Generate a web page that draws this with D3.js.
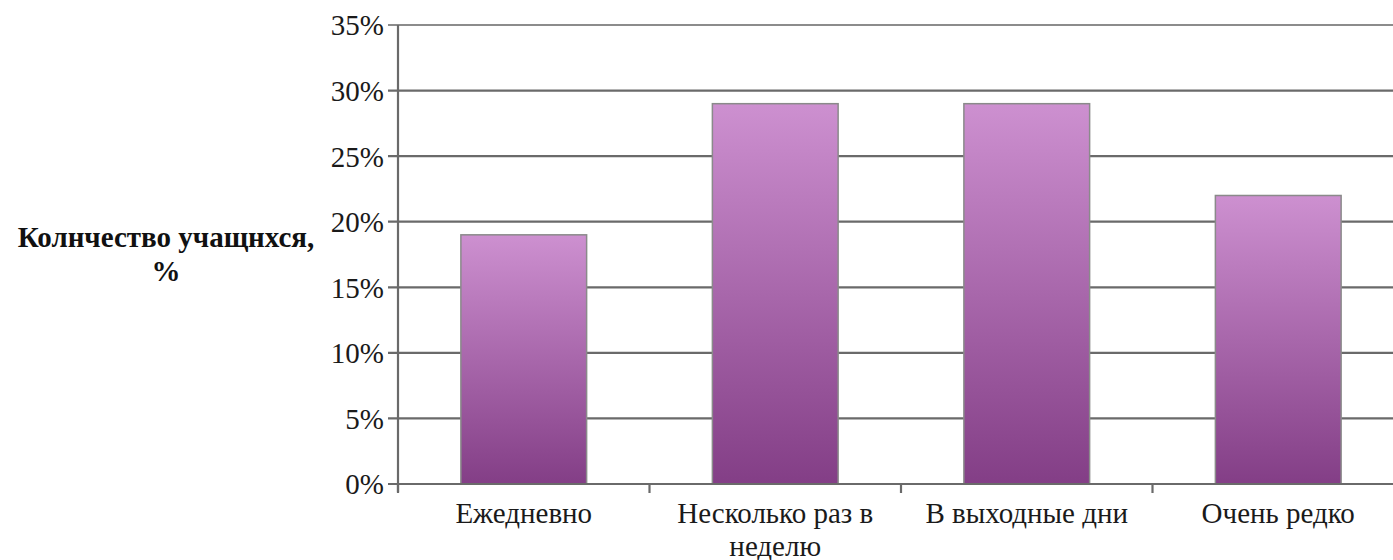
<!DOCTYPE html>
<html>
<head>
<meta charset="utf-8">
<script src="https://cdn.jsdelivr.net/npm/d3@7"></script>
<style>
  html, body { margin: 0; padding: 0; background: #fff; }
  svg { display: block; }
</style>
</head>
<body>
<svg id="chart" width="1393" height="560"></svg>
<script>
/* ---------------- data ---------------- */
const categories = ['Ежедневно', 'Несколько раз в неделю', 'В выходные дни', 'Очень редко'];
const categoryLines = [['Ежедневно'], ['Несколько раз в', 'неделю'], ['В выходные дни'], ['Очень редко']];
const shares = [0.19, 0.29, 0.29, 0.22];
const yTicks = [0, 0.05, 0.10, 0.15, 0.20, 0.25, 0.30, 0.35];
const yTitle = ['Колнчество учащнхся,', '%'];

/* ---------------- layout ---------------- */
const svg = d3.select('#chart');
const X0 = 398, X1 = 1404, Y0 = 484, Y1 = 25;
const FONT = '"Liberation Serif", "Times New Roman", serif';

const xScale = d3.scaleBand().domain(categories).range([X0, X1])
  .paddingInner(0.5).paddingOuter(0.25);
const yScale = d3.scaleLinear().domain([0, 0.35]).range([Y0, Y1]);

const defs = svg.append('defs');
const grad = defs.append('linearGradient').attr('id', 'barGrad')
  .attr('x1', 0).attr('y1', 0).attr('x2', 0).attr('y2', 1);
grad.append('stop').attr('offset', '0%').attr('stop-color', '#cd90d0');
grad.append('stop').attr('offset', '100%').attr('stop-color', '#833e86');

// gridlines
svg.append('g').selectAll('line').data(yTicks).join('line')
  .attr('x1', X0 - 10).attr('x2', 1393)
  .attr('y1', d => yScale(d)).attr('y2', d => yScale(d))
  .attr('stroke', d => d === 0.35 ? '#8c8c8c' : '#6a6a6a')
  .attr('stroke-width', 2.2);

// y axis (labels only, line drawn separately)
const yAxisG = svg.append('g').attr('transform', `translate(${X0},0)`)
  .call(d3.axisLeft(yScale).tickValues(yTicks).tickFormat(d3.format('.0%')).tickSize(10).tickPadding(4))
  .attr('font-family', FONT);
yAxisG.select('.domain').remove();
yAxisG.selectAll('.tick line').remove();
yAxisG.selectAll('.tick text').attr('font-size', 29).attr('dy', '0.34em').attr('fill', '#1a1a1a');

svg.append('line').attr('x1', X0).attr('x2', X0).attr('y1', Y1).attr('y2', Y0 + 8)
  .attr('stroke', '#6a6a6a').attr('stroke-width', 2.2);

// bars
svg.append('g').selectAll('rect').data(shares).join('rect')
  .attr('x', (d, i) => xScale(categories[i]))
  .attr('width', xScale.bandwidth())
  .attr('y', d => yScale(d))
  .attr('height', d => Y0 - yScale(d))
  .attr('fill', 'url(#barGrad)')
  .attr('stroke', '#8a8a8a').attr('stroke-width', 1.5);

// x axis line + ticks at band boundaries
svg.append('line').attr('x1', X0 - 10).attr('x2', 1393).attr('y1', Y0).attr('y2', Y0)
  .attr('stroke', '#6a6a6a').attr('stroke-width', 2.2);
const step = xScale.step();
svg.append('g').selectAll('line').data(categories).join('line')
  .attr('x1', (d, i) => X0 + i * step).attr('x2', (d, i) => X0 + i * step)
  .attr('y1', Y0).attr('y2', Y0 + 9)
  .attr('stroke', '#6a6a6a').attr('stroke-width', 2.2);

// x labels
const xl = svg.append('g').attr('font-family', FONT)
  .selectAll('text').data(categories).join('text')
  .attr('text-anchor', 'middle')
  .attr('font-size', 29)
  .attr('fill', '#1a1a1a')
  .attr('x', d => xScale(d) + xScale.bandwidth() / 2)
  .attr('y', 523);
xl.each(function(d, i) {
  d3.select(this).selectAll('tspan').data(categoryLines[i]).join('tspan')
    .attr('x', xScale(d) + xScale.bandwidth() / 2)
    .attr('dy', (t, j) => j === 0 ? 0 : 33)
    .text(t => t);
});

// y title
svg.append('text')
  .attr('font-family', FONT)
  .attr('text-anchor', 'middle').attr('font-size', 29).attr('font-weight', 'bold')
  .attr('fill', '#111')
  .selectAll('tspan').data(yTitle).join('tspan')
  .attr('x', 166).attr('y', (d, i) => 247 + i * 34)
  .text(d => d);
</script>
</body>
</html>
